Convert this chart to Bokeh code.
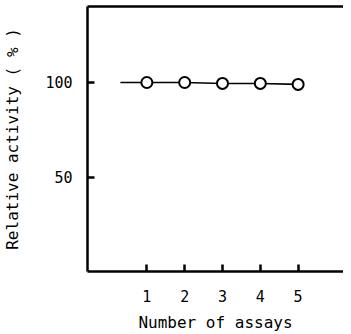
from bokeh.plotting import figure
from bokeh.models import LinearAxis, FixedTicker, Range1d
from bokeh.embed import file_html
from bokeh.resources import INLINE

# data
assays = [1, 2, 3, 4, 5]
activity = [100, 100, 99.5, 99.5, 99]
line_x = [0.3, 1, 2, 3, 4, 5]
line_y = [100, 100, 100, 99.5, 99.5, 99]
x_ticks = [1, 2, 3, 4, 5]
y_ticks = [50, 100]

FONT = "DejaVu Sans Mono"

p = figure(width=343, height=334, output_backend="svg", toolbar_location=None,
           x_range=Range1d(-0.57, 6.2), y_range=Range1d(0.5, 140),
           min_border_left=83, min_border_right=0, min_border_top=6,
           min_border_bottom=55)
p.outline_line_color = None
p.grid.visible = False
p.background_fill_color = "white"
p.border_fill_color = "white"

p.line(line_x, line_y, line_color="black", line_width=1.6)
p.scatter(assays, activity, size=11, marker="circle", fill_color="white",
          line_color="black", line_width=2)

for ax in (p.xaxis[0], p.yaxis[0]):
    ax.axis_line_width = 2.5
    ax.major_tick_line_width = 2.5
    ax.major_tick_in = 7
    ax.major_tick_out = 0
    ax.minor_tick_line_color = None
    ax.major_label_text_font = FONT
    ax.major_label_text_font_size = "15px"
    ax.major_label_text_color = "black"
    ax.axis_label_text_font = FONT
    ax.axis_label_text_font_size = "16px"
    ax.axis_label_text_font_style = "normal"
    ax.axis_label_text_color = "black"

p.xaxis[0].ticker = FixedTicker(ticks=x_ticks)
p.yaxis[0].ticker = FixedTicker(ticks=y_ticks)
p.xaxis[0].axis_label = "Number of assays"
p.yaxis[0].axis_label = "Relative activity ( % )"
p.xaxis[0].major_label_standoff = 18
p.xaxis[0].axis_label_standoff = 8
p.yaxis[0].major_label_standoff = 15
p.yaxis[0].axis_label_standoff = 20

top = LinearAxis(ticker=FixedTicker(ticks=[]), major_label_text_font_size="0px",
                 axis_line_width=2.5, major_tick_line_color=None,
                 minor_tick_line_color=None)
p.add_layout(top, "above")

open("out.html", "w").write(file_html(p, INLINE))
